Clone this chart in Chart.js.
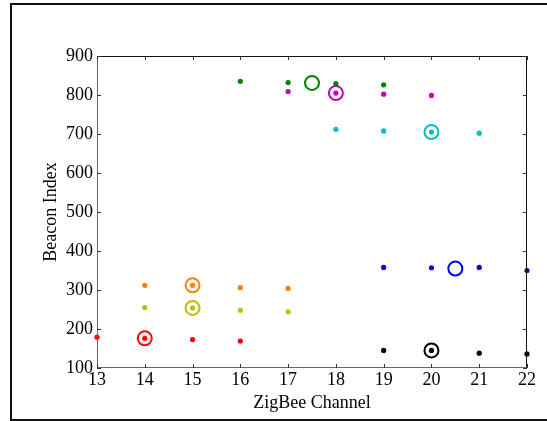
<!DOCTYPE html>
<html>
<head>
<meta charset="utf-8">
<script src="https://cdn.jsdelivr.net/npm/chart.js@4/dist/chart.umd.min.js"></script>
<style>
  html, body { margin: 0; padding: 0; background: #fff; }
  #wrap { position: relative; width: 547px; height: 421px; overflow: hidden; }
  #frame { position: absolute; left: 10px; top: 3px; width: 600px; height: 414px; border: 2px solid #111; }
  canvas { position: absolute; left: 0; top: 0; }
</style>
</head>
<body>
<div id="wrap">
  <div id="frame"></div>
  <canvas id="chart" width="547" height="421"></canvas>
</div>
<script>
const xTicks = [13, 14, 15, 16, 17, 18, 19, 20, 21, 22];
const yTicks = [100, 200, 300, 400, 500, 600, 700, 800, 900];

// beacon index read per channel, one list per group
const redX = [13, 14, 15, 16];
const redY = [179, 176, 173, 169];
const oliveX = [14, 15, 16, 17];
const oliveY = [255, 254, 248, 244];
const orangeX = [14, 15, 16, 17];
const orangeY = [312, 312, 306, 304];
const greenX = [16, 17, 18, 19];
const greenY = [835, 832, 829, 826];
const magentaX = [17, 18, 19, 20];
const magentaY = [809, 805, 802, 799];
const cyanX = [18, 19, 20, 21];
const cyanY = [712, 708, 705, 702];
const blueX = [19, 20, 21, 22];
const blueY = [358, 357, 358, 350];
const blackX = [19, 20, 21, 22];
const blackY = [145, 145, 138, 136];

// circled points (centres)
const ringX = [14, 15, 15, 17.5, 18, 20, 20.5, 20];
const ringY = [176, 254, 312, 831, 805, 705, 355, 145];
const ringColors = ['#ff0000', '#bfbf00', '#ff8000', '#008000', '#bf00bf', '#00bfbf', '#0000ff', '#000000'];

const groups = [
  [redX, redY, '#ff0000'],
  [oliveX, oliveY, '#bfbf00'],
  [orangeX, orangeY, '#ff8000'],
  [greenX, greenY, '#008000'],
  [magentaX, magentaY, '#bf00bf'],
  [cyanX, cyanY, '#00bfbf'],
  [blueX, blueY, '#0000ff'],
  [blackX, blackY, '#000000']
];

const toPts = (xs, ys) => xs.map((x, i) => ({ x: x, y: ys[i] }));

const datasets = groups.map(g => ({
  data: toPts(g[0], g[1]),
  backgroundColor: g[2],
  borderWidth: 0,
  pointRadius: 2.6,
  clip: false
}));
datasets.push({
  data: toPts(ringX, ringY),
  backgroundColor: 'rgba(0,0,0,0)',
  borderColor: ringColors,
  borderWidth: 2,
  pointRadius: 7,
  clip: false
});

const serif = "'Liberation Serif', 'DejaVu Serif', serif";

// axes box with inward ticks, matplotlib style
const framePlugin = {
  id: 'frame',
  afterDatasetsDraw(chart) {
    const { ctx, chartArea: a, scales } = chart;
    ctx.save();
    ctx.lineWidth = 1;
    ctx.strokeStyle = '#111';
    ctx.beginPath();
    ctx.moveTo(a.left, a.top + 0.5); ctx.lineTo(a.right, a.top + 0.5);
    ctx.moveTo(a.right - 0.5, a.top); ctx.lineTo(a.right - 0.5, a.bottom);
    ctx.stroke();
    ctx.strokeStyle = '#666';
    ctx.beginPath();
    ctx.moveTo(a.left + 0.5, a.top); ctx.lineTo(a.left + 0.5, a.bottom);
    ctx.moveTo(a.left, a.bottom - 0.5); ctx.lineTo(a.right, a.bottom - 0.5);
    ctx.stroke();
    ctx.strokeStyle = '#333';
    ctx.beginPath();
    xTicks.forEach(v => {
      const px = Math.round(scales.x.getPixelForValue(v)) + 0.5;
      ctx.moveTo(px, a.top); ctx.lineTo(px, a.top + 4);
      ctx.moveTo(px, a.bottom); ctx.lineTo(px, a.bottom - 4);
    });
    yTicks.forEach(v => {
      const py = Math.round(scales.y.getPixelForValue(v)) + 0.5;
      ctx.moveTo(a.left, py); ctx.lineTo(a.left + 4, py);
      ctx.moveTo(a.right, py); ctx.lineTo(a.right - 4, py);
    });
    ctx.stroke();
    ctx.restore();
  }
};

new Chart(document.getElementById('chart'), {
  type: 'scatter',
  data: { datasets },
  options: {
    responsive: false,
    animation: false,
    layout: { padding: { left: 0, top: 56, right: 20, bottom: 0 } },
    plugins: { legend: { display: false }, tooltip: { enabled: false } },
    scales: {
      x: {
        min: 13, max: 22,
        afterFit: s => { s.height = 53; },
        afterBuildTicks: s => { s.ticks = xTicks.map(v => ({ value: v })); },
        grid: { display: false, drawTicks: false },
        border: { display: false },
        ticks: { color: '#000', font: { family: serif, size: 18 }, padding: 1, maxRotation: 0 },
        title: { display: true, text: 'ZigBee Channel', color: '#000', font: { family: serif, size: 18 }, padding: { top: 0, bottom: 7 } }
      },
      y: {
        min: 100, max: 900,
        afterFit: s => { s.width = 97; },
        afterBuildTicks: s => { s.ticks = yTicks.map(v => ({ value: v })); },
        grid: { display: false, drawTicks: false },
        border: { display: false },
        ticks: { color: '#000', font: { family: serif, size: 18 }, padding: 4 },
        title: { display: true, text: 'Beacon Index', color: '#000', font: { family: serif, size: 18 }, padding: { top: 40, bottom: 0 } }
      }
    }
  },
  plugins: [framePlugin]
});
</script>
</body>
</html>
